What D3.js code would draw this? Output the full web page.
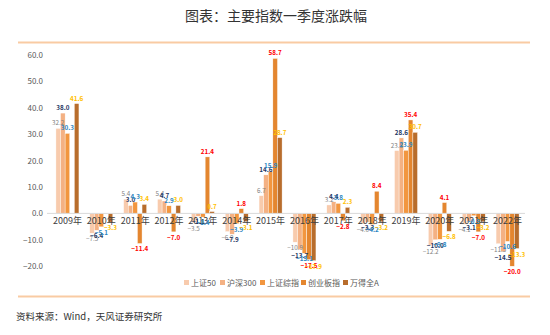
<!DOCTYPE html>
<html><head><meta charset="utf-8">
<script src="https://cdn.jsdelivr.net/npm/d3@7"></script>
<style>
html,body{margin:0;padding:0;background:#fff;}
svg{display:block;font-family:"Noto Sans CJK SC","Noto Sans",sans-serif;}
</style></head>
<body>
<script>
const title = "图表：主要指数一季度涨跌幅";
const source = "资料来源：Wind，天风证券研究所";
const years = ["2009年","2010年","2011年","2012年","2013年","2014年","2015年","2016年","2017年","2018年","2019年","2020年","2021年","2022年"];
const seriesNames = ["上证50","沪深300","上证综指","创业板指","万得全A"];
const sz50   = [32.2, -7.5, 5.4, 5.4, -3.5, -6.9, 6.7, -10.9, 3.2, -4.0, 23.8, -12.2, -4.1, -11.5];
const hs300  = [38.0, -6.4, 3.0, 4.7, -1.1, -7.9, 14.6, -13.7, 4.4, -3.3, 28.6, -10.0, -3.1, -14.5];
const szzz   = [30.3, -5.1, 4.3, 2.9, -1.4, -3.9, 15.9, -15.1, 3.8, -4.2, 23.9, -9.8, -0.9, -10.6];
const cyb    = [null, null, -11.4, -7.0, 21.4, 1.8, 58.7, -17.5, -2.8, 8.4, 35.4, 4.1, -7.0, -20.0];
const wdqa   = [41.6, -3.3, 3.4, 3.0, 0.7, -3.1, 28.7, -17.9, 2.3, -3.2, 30.7, -6.8, -3.2, -13.3];
const yTicks = [-20, -10, 0, 10, 20, 30, 40, 50, 60];

const seriesValues = [sz50, hs300, szzz, cyb, wdqa];
const barColors = ["#F8CBAD", "#F4B183", "#F2963F", "#E4862F", "#B86D2C"];
const labelColors = ["#808080", "#1F3864", "#2E86C1", "#FF0000", "#FFC000"];
const labelWeights = ["normal", "bold", "bold", "bold", "bold"];

const W = 550, H = 335;
const svg = d3.select("body").append("svg").attr("width", W).attr("height", H);

svg.append("text").attr("x", 276).attr("y", 21).attr("text-anchor", "middle")
  .attr("font-size", 14).attr("fill", "#333").text(title);
svg.append("line").attr("x1", 18).attr("x2", 530).attr("y1", 42.5).attr("y2", 42.5)
  .attr("stroke", "#F9CBA3").attr("stroke-width", 2);
svg.append("line").attr("x1", 18).attr("x2", 530).attr("y1", 296.5).attr("y2", 296.5)
  .attr("stroke", "#F9CBA3").attr("stroke-width", 2);
svg.append("text").attr("x", 16).attr("y", 320).attr("font-size", 9.5).attr("fill", "#333").text(source);

const y = d3.scaleLinear().domain([-20, 60]).range([266.2, 55]);
const x0 = d3.scaleBand().domain(years).range([50.5, 524.5]).paddingInner(0.32).paddingOuter(0.16);
const x1 = d3.scaleBand().domain(seriesNames).range([0, x0.bandwidth()]);

// y axis
const yAxis = d3.axisLeft(y).tickValues(yTicks).tickFormat(d3.format(".1f")).tickSize(0).tickPadding(0);
const gy = svg.append("g").attr("transform", "translate(43,0)").call(yAxis);
gy.select(".domain").remove();
gy.selectAll("text").attr("font-size", 8).attr("fill", "#595959").attr("font-family", "\"Noto Sans CJK SC\",sans-serif");

// bars
const data = [];
years.forEach((yr, i) => seriesNames.forEach((s, j) => {
  const v = seriesValues[j][i];
  if (v !== null && v !== undefined) data.push({yr, s, j, v});
}));

svg.append("g").selectAll("rect").data(data).join("rect")
  .attr("x", d => x0(d.yr) + x1(d.s))
  .attr("width", x1.bandwidth())
  .attr("y", d => y(Math.max(0, d.v)))
  .attr("height", d => Math.abs(y(d.v) - y(0)))
  .attr("fill", d => barColors[d.j])
  .attr("stroke", "#fff").attr("stroke-width", 0.4);

// zero axis
const xAxis = d3.axisBottom(x0).tickSize(0).tickPadding(4);
const gx = svg.append("g").attr("transform", `translate(0,${y(0)})`).call(xAxis);
gx.select(".domain").attr("stroke", "#D9D9D9").attr("d", `M47,0H525`);
gx.selectAll("text").attr("font-size", 9).attr("fill", "#404040").attr("font-family", "\"Noto Sans CJK SC\",sans-serif");

// labels
svg.append("g").selectAll("text").data(data).join("text")
  .attr("x", d => x0(d.yr) + x1(d.s) + x1.bandwidth() / 2)
  .attr("y", d => d.v >= 0 ? y(d.v) - 3 : y(d.v) + 8)
  .attr("text-anchor", "middle")
  .attr("font-size", 6.3)
  .attr("font-weight", d => labelWeights[d.j])
  .attr("fill", d => labelColors[d.j])
  .text(d => d3.format(".1f")(d.v));

// legend
const legX = [184, 220, 260, 301, 343];
const leg = svg.append("g").selectAll("g").data(seriesNames).join("g")
  .attr("transform", (d, i) => `translate(${legX[i]},283)`);
leg.append("rect").attr("x", 0).attr("y", -3).attr("width", 5).attr("height", 5)
  .attr("fill", (d, i) => barColors[i]);
leg.append("text").attr("x", 7).attr("y", 2.5).attr("font-size", 8).attr("fill", "#595959").text(d => d);
</script>
</body></html>
